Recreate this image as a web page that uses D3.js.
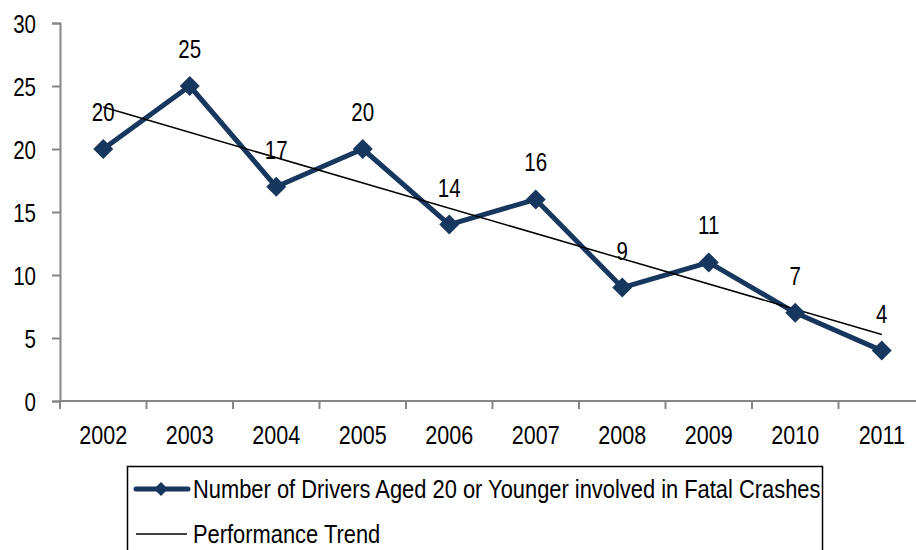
<!DOCTYPE html>
<html>
<head>
<meta charset="utf-8">
<script src="https://cdn.jsdelivr.net/npm/d3@7"></script>
<style>
  html, body { margin: 0; padding: 0; background: #fff; overflow: hidden; }
  svg text { font-family: "Liberation Sans", Arial, sans-serif; fill: #000; }
</style>
</head>
<body>
<div id="chart"></div>
<script>
// chart data
var years = ["2002", "2003", "2004", "2005", "2006", "2007", "2008", "2009", "2010", "2011"];
var drivers = [20, 25, 17, 20, 14, 16, 9, 11, 7, 4];
var yTicks = [0, 5, 10, 15, 20, 25, 30];
var seriesName = "Number of Drivers Aged 20 or Younger involved in Fatal Crashes";
var trendName = "Performance Trend";

var width = 916, height = 550;
var navy = "#17375e", axisGrey = "#868686";
var fs = "25px";

// squeeze text horizontally so Liberation Sans looks like a narrow face
function narrow(sel, k) {
    sel.each(function () {
        var len = this.getComputedTextLength();
        d3.select(this).attr("textLength", len * k).attr("lengthAdjust", "spacingAndGlyphs");
    });
}

var svg = d3.select("#chart").append("svg")
    .attr("width", width)
    .attr("height", height);

var x = d3.scaleBand().domain(years).range([60, 925]);
var y = d3.scaleLinear().domain([0, 30]).range([401, 23]);

// y axis
var yAxis = d3.axisLeft(y).tickValues(yTicks).tickSize(8).tickPadding(16);
var gy = svg.append("g").attr("transform", "translate(60,0)").call(yAxis);
gy.selectAll("text").style("font-size", fs).attr("dy", "0.36em").call(narrow, 0.82);
gy.select(".domain").attr("stroke", axisGrey).attr("stroke-width", 2);
gy.selectAll(".tick line").attr("stroke", axisGrey).attr("stroke-width", 2);

// x axis, ticks at band edges
var gx = svg.append("g").attr("transform", "translate(0,401)");
gx.append("line").attr("x1", 60).attr("x2", 925).attr("y1", 0).attr("y2", 0)
    .attr("stroke", axisGrey).attr("stroke-width", 2);
gx.selectAll(".xtick").data(years.concat(["end"])).enter().append("line")
    .attr("x1", function (d, i) { return x.range()[0] + i * x.step(); })
    .attr("x2", function (d, i) { return x.range()[0] + i * x.step(); })
    .attr("y1", 0).attr("y2", 8)
    .attr("stroke", axisGrey).attr("stroke-width", 2);
gx.selectAll(".xlab").data(years).enter().append("text")
    .attr("x", function (d) { return x(d) + x.bandwidth() / 2; })
    .attr("y", 43)
    .attr("text-anchor", "middle")
    .style("font-size", fs)
    .text(function (d) { return d; })
    .call(narrow, 0.86);

// least squares trend
var n = drivers.length;
var mx = d3.mean(drivers, function (d, i) { return i; });
var my = d3.mean(drivers);
var sxy = d3.sum(drivers, function (d, i) { return (i - mx) * (d - my); });
var sxx = d3.sum(drivers, function (d, i) { return (i - mx) * (i - mx); });
var slope = sxy / sxx, icpt = my - slope * mx;
var cx = function (d) { return x(d) + x.bandwidth() / 2; };

var line = d3.line()
    .x(function (d, i) { return cx(years[i]); })
    .y(function (d) { return y(d); });

svg.append("path").datum(drivers)
    .attr("d", line)
    .attr("fill", "none")
    .attr("stroke", navy)
    .attr("stroke-width", 5)
    .attr("stroke-linejoin", "round");

svg.append("line")
    .attr("x1", cx(years[0])).attr("y1", y(icpt))
    .attr("x2", cx(years[n - 1])).attr("y2", y(icpt + slope * (n - 1)))
    .attr("stroke", "#000").attr("stroke-width", 1.5);

var diamond = d3.symbol().type(d3.symbolSquare).size(200);
svg.selectAll(".pt").data(drivers).enter().append("path")
    .attr("d", diamond)
    .attr("transform", function (d, i) { return "translate(" + cx(years[i]) + "," + y(d) + ") rotate(45)"; })
    .attr("fill", navy);

svg.selectAll(".lbl").data(drivers).enter().append("text")
    .attr("x", function (d, i) { return cx(years[i]); })
    .attr("y", function (d) { return y(d) - 28; })
    .attr("text-anchor", "middle")
    .style("font-size", fs)
    .text(function (d) { return d; })
    .call(narrow, 0.82);

// legend
var lg = svg.append("g");
lg.append("rect").attr("x", 127.5).attr("y", 466.5).attr("width", 695).attr("height", 100)
    .attr("fill", "#fff").attr("stroke", "#000").attr("stroke-width", 1.5);
lg.append("line").attr("x1", 136).attr("x2", 188).attr("y1", 489).attr("y2", 489)
    .attr("stroke", navy).attr("stroke-width", 5).attr("stroke-linecap", "round");
lg.append("path").attr("d", d3.symbol().type(d3.symbolSquare).size(100))
    .attr("transform", "translate(161,489) rotate(45)").attr("fill", navy);
lg.append("text").attr("x", 193).attr("y", 498).style("font-size", fs).text(seriesName)
    .call(narrow, 0.875);
lg.append("line").attr("x1", 136).attr("x2", 187).attr("y1", 534).attr("y2", 534)
    .attr("stroke", "#000").attr("stroke-width", 1.5);
lg.append("text").attr("x", 193).attr("y", 543).style("font-size", fs).text(trendName)
    .call(narrow, 0.875);
</script>
</body>
</html>
